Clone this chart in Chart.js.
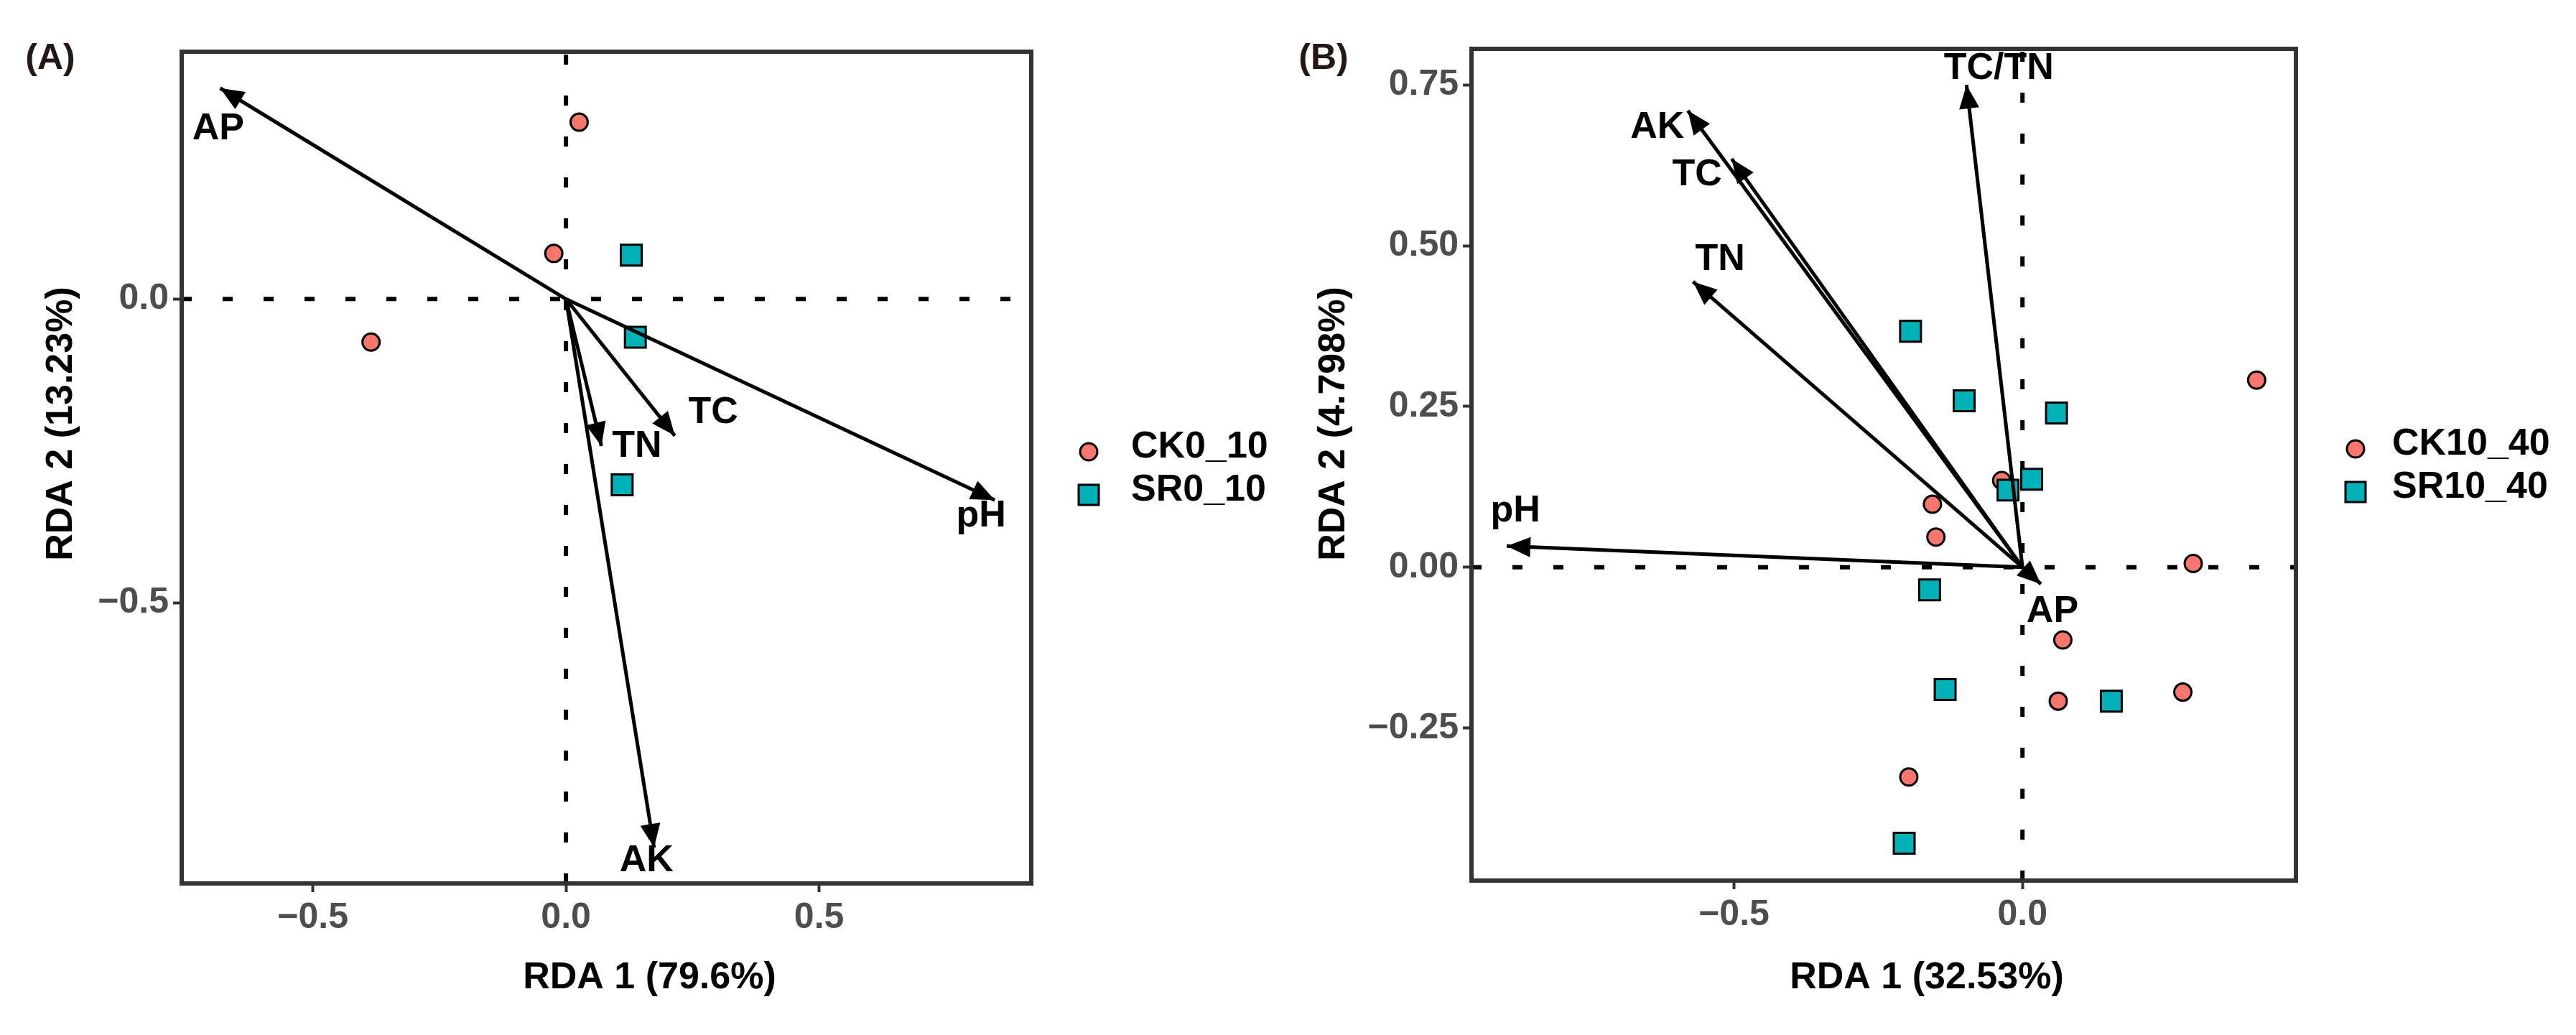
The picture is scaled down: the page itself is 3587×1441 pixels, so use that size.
<!DOCTYPE html>
<html>
<head>
<meta charset="utf-8">
<script src="https://cdn.jsdelivr.net/npm/chart.js@4.4.1/dist/chart.umd.min.js"></script>
<style>
  html, body { margin: 0; padding: 0; background: #fff; overflow: hidden; }
  canvas { position: absolute; top: 0; }
  #rdaA { left: 0; }
  #rdaB { left: 1800px; }
</style>
</head>
<body>
<canvas id="rdaA" width="1800" height="1441" style="width:1800px;height:1441px"></canvas>
<canvas id="rdaB" width="1787" height="1441" style="width:1787px;height:1441px"></canvas>
<script>
// ---- Panel A (0-10 cm) ----
const ckA_x = [0.026, -0.024, -0.385];
const ckA_y = [0.291, 0.075, -0.071];
const srA_x = [0.129, 0.137, 0.111];
const srA_y = [0.072, -0.063, -0.306];
const envA = ['AP', 'TC', 'TN', 'AK', 'pH'];
const envA_x = [-0.683, 0.215, 0.070, 0.174, 0.847];
const envA_y = [0.347, -0.225, -0.242, -0.903, -0.331];
const labA_x = [-0.687, 0.291, 0.140, 0.159, 0.820];
const labA_y = [0.280, -0.187, -0.243, -0.925, -0.357];
const xTicksA = [-0.5, 0, 0.5];
const xTickLabelsA = ['\u22120.5', '0.0', '0.5'];
const yTicksA = [-0.5, 0];
const yTickLabelsA = ['\u22120.5', '0.0'];
const xRangeA = [-0.759, 0.919];
const yRangeA = [-0.962, 0.407];

// ---- Panel B (10-40 cm) ----
const ckB_x = [-0.036, -0.156, -0.150, 0.406, 0.296, 0.070, 0.062, 0.278, -0.197];
const ckB_y = [0.135, 0.098, 0.047, 0.291, 0.006, -0.113, -0.208, -0.194, -0.326];
const srB_x = [-0.194, -0.101, -0.025, 0.059, 0.016, -0.161, -0.134, 0.154, -0.205];
const srB_y = [0.367, 0.259, 0.120, 0.240, 0.137, -0.035, -0.190, -0.208, -0.429];
const envB = ['AK', 'TC', 'TN', 'pH', 'TC/TN', 'AP'];
const envB_x = [-0.580, -0.504, -0.571, -0.894, -0.097, 0.032];
const envB_y = [0.710, 0.635, 0.444, 0.033, 0.750, -0.026];
const labB_x = [-0.633, -0.564, -0.524, -0.879, -0.041, 0.052];
const labB_y = [0.684, 0.610, 0.478, 0.087, 0.775, -0.069];
const xTicksB = [-0.5, 0];
const xTickLabelsB = ['\u22120.5', '0.0'];
const yTicksB = [-0.25, 0, 0.25, 0.5, 0.75];
const yTickLabelsB = ['\u22120.25', '0.00', '0.25', '0.50', '0.75'];
const xRangeB = [-0.955, 0.474];
const yRangeB = [-0.487, 0.806];

const FAMILY = '"Liberation Sans", Arial, Helvetica, sans-serif';
const CK_COLOR = '#F8766D';
const SR_COLOR = '#00B2B8';

const toPts = (xs, ys) => xs.map((x, i) => ({ x, y: ys[i] }));

// draws arrow heads, vector labels, frame, axis titles, tag and legend
const rdaDecor = {
  id: 'rdaDecor',
  afterDatasetsDraw(chart) {
    const { ctx } = chart;
    ctx.save();
    ctx.fillStyle = '#000';
    chart.data.datasets.forEach((ds, i) => {
      if (!ds.isArrow) return;
      const [p0, p1] = chart.getDatasetMeta(i).data;
      const ang = Math.atan2(p1.y - p0.y, p1.x - p0.x);
      ctx.save();
      ctx.translate(p1.x, p1.y);
      ctx.rotate(ang);
      ctx.beginPath();
      ctx.moveTo(0, 0);
      ctx.lineTo(-33, -14);
      ctx.lineTo(-33, 14);
      ctx.closePath();
      ctx.fill();
      ctx.restore();
    });
    ctx.restore();
  },
  afterDraw(chart, args, o) {
    const { ctx, chartArea: a, scales: { x, y } } = chart;
    ctx.save();

    // vector labels
    ctx.font = `bold 52px ${FAMILY}`;
    ctx.fillStyle = '#000';
    ctx.textAlign = 'center';
    ctx.textBaseline = 'middle';
    o.labels.forEach((t, i) => {
      ctx.fillText(t, x.getPixelForValue(o.labX[i]), y.getPixelForValue(o.labY[i]));
    });

    // panel frame
    ctx.lineWidth = 6;
    ctx.strokeStyle = '#333333';
    ctx.strokeRect(a.left, a.top, a.width, a.height);

    // axis titles
    ctx.fillStyle = '#000';
    ctx.fillText(o.xTitle, (a.left + a.right) / 2 + 60, 1362);
    ctx.save();
    ctx.translate(o.yTitleX, 590);
    ctx.rotate(-Math.PI / 2);
    ctx.fillText(o.yTitle, 0, 0);
    ctx.restore();

    // panel tag
    ctx.font = `bold 50px ${FAMILY}`;
    ctx.fillStyle = '#231815';
    ctx.fillText(o.tag, o.tagX, 82);

    // legend
    const mid = (a.top + a.bottom) / 2;
    ctx.font = `bold 52px ${FAMILY}`;
    ctx.textAlign = 'left';
    o.legendNames.forEach((name, i) => {
      const ds = chart.data.datasets.find(d => d.label === name);
      const cx = a.right + o.legendDx;
      const cy = mid + (i === 0 ? -22 : 38);
      ctx.beginPath();
      if (ds.pointStyle === 'rect') ctx.rect(cx - 14, cy - 14, 28, 28);
      else ctx.arc(cx, cy, 12, 0, Math.PI * 2);
      ctx.fillStyle = ds.backgroundColor;
      ctx.fill();
      ctx.lineWidth = 3;
      ctx.strokeStyle = '#000';
      ctx.stroke();
      ctx.fillStyle = '#000';
      ctx.fillText(name, a.right + o.legendTextDx, cy - 6);
    });
    ctx.restore();
  }
};

function tickFont() {
  return { family: FAMILY, size: 50, weight: 'bold' };
}

function makeAxis(range, values, labels, fit) {
  return {
    type: 'linear',
    min: range[0],
    max: range[1],
    afterBuildTicks: s => { s.ticks = values.map(v => ({ value: v })); },
    afterFit: fit,
    ticks: {
      callback: (v, i) => labels[i],
      color: '#4D4D4D',
      font: tickFont(),
      padding: 6,
      maxRotation: 0,
      autoSkip: false,
    },
    grid: { drawOnChartArea: false, drawTicks: true, tickLength: 12, tickWidth: 4, tickColor: '#333333' },
    border: { display: false },
  };
}

function buildPanel(el, p) {
  const arrows = p.envX.map((ex, i) => ({
    label: p.env[i],
    isArrow: true,
    showLine: true,
    data: [{ x: 0, y: 0 }, { x: ex, y: p.envY[i] }],
    borderColor: '#000',
    borderWidth: 5,
    borderCapStyle: 'butt',
    pointRadius: 0,
    order: 1,
  }));
  const zeroLines = [
    { data: [{ x: p.xRange[0], y: 0 }, { x: p.xRange[1], y: 0 }] },
    { data: [{ x: 0, y: p.yRange[0] }, { x: 0, y: p.yRange[1] }] },
  ].map(d => ({
    ...d,
    showLine: true,
    borderColor: '#000',
    borderWidth: 6,
    borderDash: [14, 43],
    pointRadius: 0,
    order: 4,
  }));

  return new Chart(el, {
    type: 'scatter',
    data: {
      datasets: [
        ...arrows,
        {
          label: p.groups[1],
          data: toPts(p.srX, p.srY),
          pointStyle: 'rect',
          pointRadius: 20.5,
          backgroundColor: SR_COLOR,
          borderColor: '#000',
          borderWidth: 3,
          order: 2,
        },
        {
          label: p.groups[0],
          data: toPts(p.ckX, p.ckY),
          pointStyle: 'circle',
          pointRadius: 12,
          backgroundColor: CK_COLOR,
          borderColor: '#000',
          borderWidth: 3,
          order: 3,
        },
        ...zeroLines,
      ],
    },
    options: {
      responsive: false,
      animation: false,
      events: [],
      layout: { padding: { left: 0, top: p.top, right: p.right, bottom: 0 } },
      plugins: {
        legend: { display: false },
        tooltip: { enabled: false },
        rdaDecor: {
          labels: p.env,
          labX: p.labX,
          labY: p.labY,
          xTitle: p.xTitle,
          yTitle: p.yTitle,
          yTitleX: p.yTitleX,
          tag: p.tag,
          tagX: p.tagX,
          legendNames: p.groups,
          legendDx: p.legendDx,
          legendTextDx: p.legendTextDx,
        },
      },
      scales: {
        x: makeAxis(p.xRange, p.xTicks, p.xTickLabels, s => { s.height = p.xAxisH; }),
        y: makeAxis(p.yRange, p.yTicks, p.yTickLabels, s => { s.width = p.yAxisW; }),
      },
    },
    plugins: [rdaDecor],
  });
}

buildPanel(document.getElementById('rdaA'), {
  ckX: ckA_x, ckY: ckA_y, srX: srA_x, srY: srA_y,
  env: envA, envX: envA_x, envY: envA_y, labX: labA_x, labY: labA_y,
  xRange: xRangeA, yRange: yRangeA,
  xTicks: xTicksA, xTickLabels: xTickLabelsA, yTicks: yTicksA, yTickLabels: yTickLabelsA,
  groups: ['CK0_10', 'SR0_10'],
  xTitle: 'RDA 1 (79.6%)', yTitle: 'RDA 2 (13.23%)', yTitleX: 86,
  tag: '(A)', tagX: 70,
  top: 72, right: 364, xAxisH: 211, yAxisW: 253,
  legendDx: 80, legendTextDx: 139,
});

buildPanel(document.getElementById('rdaB'), {
  ckX: ckB_x, ckY: ckB_y, srX: srB_x, srY: srB_y,
  env: envB, envX: envB_x, envY: envB_y, labX: labB_x, labY: labB_y,
  xRange: xRangeB, yRange: yRangeB,
  xTicks: xTicksB, xTickLabels: xTickLabelsB, yTicks: yTicksB, yTickLabels: yTickLabelsB,
  groups: ['CK10_40', 'SR10_40'],
  xTitle: 'RDA 1 (32.53%)', yTitle: 'RDA 2 (4.798%)', yTitleX: 58,
  tag: '(B)', tagX: 43,
  top: 68, right: 390, xAxisH: 215, yAxisW: 249,
  legendDx: 83, legendTextDx: 134,
});
</script>
</body>
</html>
